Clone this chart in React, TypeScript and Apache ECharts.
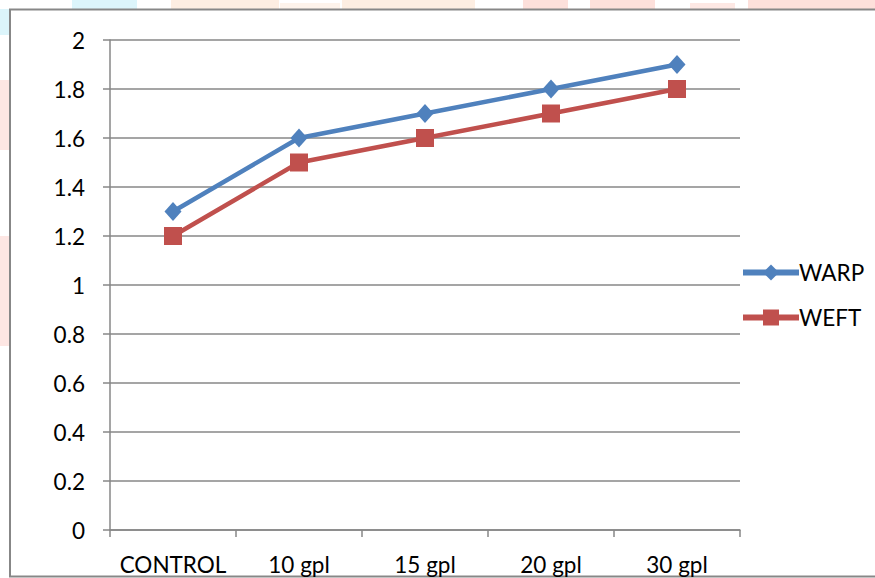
import React, { useEffect, useRef } from "react";
import * as echarts from "echarts";

const categories = ["CONTROL", "10 gpl", "15 gpl", "20 gpl", "30 gpl"];
const warpValues = [1.3, 1.6, 1.7, 1.8, 1.9];
const weftValues = [1.2, 1.5, 1.6, 1.7, 1.8];
const seriesNames = ["WARP", "WEFT"];

const FONT = "Lato, 'Open Sans', sans-serif";
const FONT_SIZE = 22.5;
const GRID_GRAY = "#878787";
const BLUE = "#4F81BD";
const RED = "#C0504D";

// faint decorative strips peeking out around the frame
const strips: Array<[number, number, number, number, string]> = [
  [72, 0, 65, 9, "#dcf5fb"],
  [0, 9, 10, 26, "#dcf5fb"],
  [171, 0, 108, 9, "#fdeee2"],
  [280, 3, 60, 6, "#fdf3eb"],
  [342, 0, 133, 9, "#fdeee2"],
  [523, 0, 45, 9, "#fde0db"],
  [590, 0, 65, 9, "#fde0db"],
  [690, 3, 45, 6, "#fde8e4"],
  [748, 0, 127, 9, "#fde0db"],
  [0, 80, 10, 70, "#fde6e3"],
  [0, 236, 10, 110, "#fde6e3"],
];

export default function App() {
  const ref = useRef<HTMLDivElement>(null);

  useEffect(() => {
    if (!ref.current) return;
    const chart = echarts.init(ref.current, null, { renderer: "svg" });

    const graphics: any[] = strips.map(([x, y, w, h, c]) => ({
      type: "rect",
      shape: { x, y, width: w, height: h },
      style: { fill: c },
      silent: true,
      z: -10,
    }));
    graphics.push({
      type: "rect",
      shape: { x: 10, y: 9.5, width: 880, height: 567 },
      style: { fill: "#ffffff", stroke: "#878787", lineWidth: 2 },
      silent: true,
      z: -5,
    });

    chart.setOption({
      animation: false,
      backgroundColor: "#ffffff",
      graphic: graphics,
      grid: { left: 110, right: 135, top: 40, bottom: 48, containLabel: false },
      legend: {
        orient: "vertical",
        left: 735,
        top: 256,
        itemWidth: 56,
        itemHeight: 20,
        itemGap: 22,
        lineStyle: { width: 6 },
        textStyle: { fontFamily: FONT, fontSize: FONT_SIZE, color: "#000", padding: [0, 0, 0, -5] },
        data: seriesNames,
      },
      xAxis: {
        type: "category",
        data: categories,
        boundaryGap: true,
        axisLine: { lineStyle: { color: GRID_GRAY, width: 1.5 } },
        axisTick: { show: true, length: 7, interval: 0, lineStyle: { color: GRID_GRAY, width: 1.5 } },
        axisLabel: { fontFamily: FONT, fontSize: FONT_SIZE, color: "#000", margin: 23, interval: 0 },
        splitLine: { show: false },
      },
      yAxis: {
        type: "value",
        min: 0,
        max: 2,
        interval: 0.2,
        axisLine: { show: true, lineStyle: { color: GRID_GRAY, width: 1.5 } },
        axisTick: { show: true, length: 7, lineStyle: { color: GRID_GRAY, width: 1.5 } },
        axisLabel: {
          fontFamily: FONT,
          fontSize: FONT_SIZE,
          color: "#000",
          margin: 25,
          formatter: (v: number) => String(Math.round(v * 10) / 10),
        },
        splitLine: { show: true, lineStyle: { color: GRID_GRAY, width: 1.5 } },
      },
      series: [
        {
          name: seriesNames[0],
          type: "line",
          data: warpValues,
          symbol: "diamond",
          symbolSize: [17, 19],
          lineStyle: { color: BLUE, width: 4.5 },
          itemStyle: { color: BLUE },
        },
        {
          name: seriesNames[1],
          type: "line",
          data: weftValues,
          symbol: "rect",
          symbolSize: 18,
          lineStyle: { color: RED, width: 4.5 },
          itemStyle: { color: RED },
        },
      ],
    });

    return () => chart.dispose();
  }, []);

  return (
    <div
      ref={ref}
      style={{ position: "fixed", left: 0, top: 0, width: 875, height: 578 }}
    />
  );
}
